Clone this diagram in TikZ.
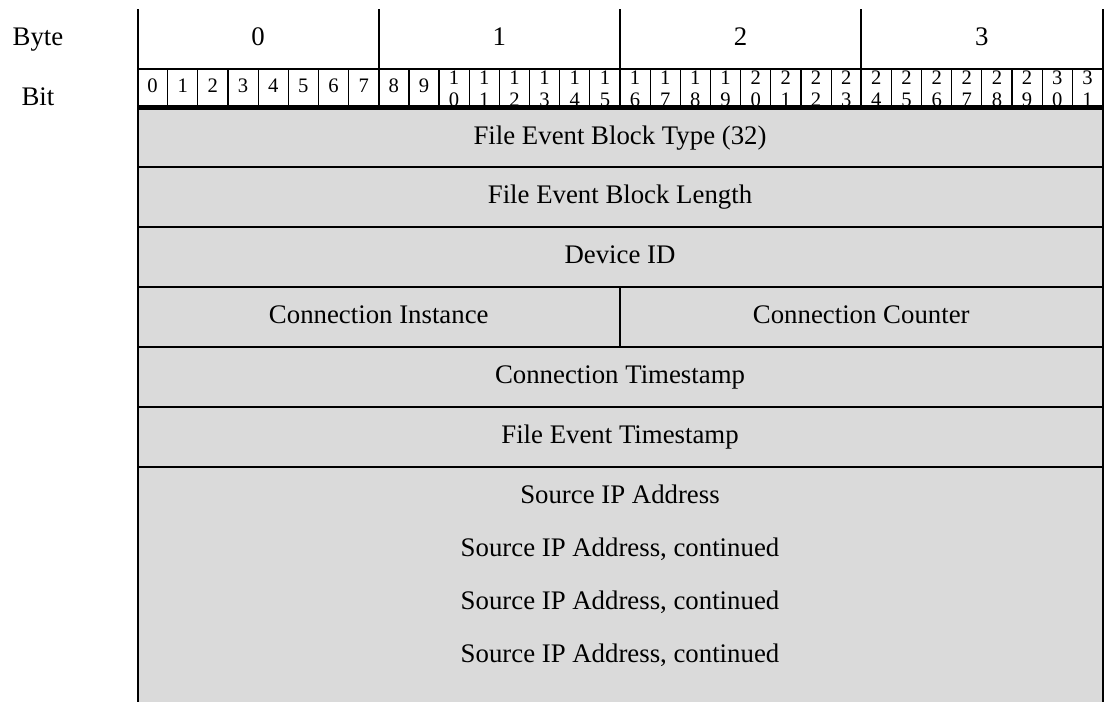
\documentclass[tikz,border=0pt]{standalone}
\usepackage{fontspec}
\setmainfont{Liberation Serif}
\usetikzlibrary{positioning}
\definecolor{fieldgray}{RGB}{218,218,218}

\begin{document}
\begin{tikzpicture}[
    x = 0.5pt,
    y = -0.5pt,
    every node/.style = {font=\fontsize{13.4}{15}\selectfont, inner sep=0pt, anchor=base},
    frame/.style = {line width=1pt},
    bitline/.style = {line width=0.6pt},
    rule/.style = {line width=2.5pt},
    bitnum/.style = {font=\fontsize{10.3}{11}\selectfont}
]
\useasboundingbox (0,0) rectangle (1106,702);

% field area
\fill[fieldgray] (137.5,107) rectangle (1102.5,702);

% bit numbers, the lower digit cut by the rule
\begin{scope}
    \clip (137.5,69) rectangle (1102.5,105);
    \foreach \i in {0,...,31} {
        \pgfmathsetmacro\xc{137.5+(\i+0.5)*30.156}
        \pgfmathtruncatemacro\tens{\i/10}
        \pgfmathtruncatemacro\units{\i-10*\tens}
        \ifnum\i<10
            \node[bitnum] (bit\i) at (\xc,92) {\i};
        \else
            \node[bitnum] (bit\i) at (\xc,84) {\tens};
            \node[bitnum] (bitlow\i) at (\xc,106) {\units};
        \fi
    }
\end{scope}

% bit cells
\foreach \i in {1,...,31}
    \draw[bitline] ({137.5+\i*30.156},69) -- ({137.5+\i*30.156},107);
\draw[frame] (137.5,69) -- (1102.5,69);

% bytes
\foreach \b in {0,...,3}
    \node (byte\b) at ({137.5+(\b+0.5)*241.25},45) {\b};
\foreach \b in {1,2,3}
    \draw[frame] ({137.5+\b*241.25},9) -- ({137.5+\b*241.25},107);

\node (bytelabel) at (38,45) {Byte};
\node (bitlabel) at (38,105) {Bit};

% outer frame
\draw[frame] (137.5,9) -- (137.5,702);
\draw[frame] (1102.5,9) -- (1102.5,702);
\draw[rule] (137.5,107.5) -- (1102.5,107.5);

% rows
\foreach \y in {167,227,287,347,407,467}
    \draw[frame] (137.5,\y) -- (1102.5,\y);
\draw[frame] (620,287) -- (620,347);

\node (blocktype) at (620,144.5) {File Event Block Type (32)};
\node (blocklength) at (620,203.5) {File Event Block Length};
\node (deviceid) at (620,263.5) {Device ID};
\node (conninst) at (378.75,323.5) {Connection Instance};
\node (conncount) at (861.25,323.5) {Connection Counter};
\node (conntime) at (620,383.5) {Connection Timestamp};
\node (eventtime) at (620,443.5) {File Event Timestamp};

\node (srcip) at (620,503.5) {Source IP Address};
\node (srcipb) at (620,556) {Source IP Address, continued};
\node (srcipc) at (620,609) {Source IP Address, continued};
\node (srcipd) at (620,662) {Source IP Address, continued};

\end{tikzpicture}
\end{document}
